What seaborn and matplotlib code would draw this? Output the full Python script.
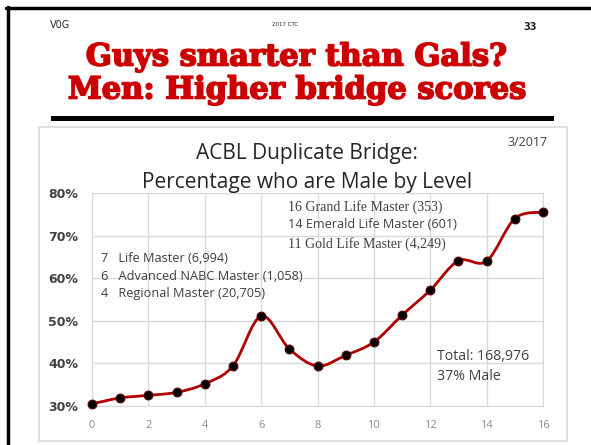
import numpy as np
import pandas as pd
import seaborn as sns
import matplotlib.pyplot as plt
import matplotlib.patheffects as pe
from matplotlib.path import Path
from matplotlib.patches import PathPatch, Rectangle
from matplotlib.lines import Line2D

# ACBL masterpoint level vs percent male
levels = [0, 1, 2, 3, 4, 5, 6, 7, 8, 9, 10, 11, 12, 13, 14, 15, 16]
pct_male = [30.5, 31.9, 32.5, 33.2, 35.2, 39.4, 51.1, 43.4, 39.4, 41.9,
            45.0, 51.3, 57.2, 64.1, 64.0, 74.0, 75.5]
y_ticks = [30, 40, 50, 60, 70, 80]
y_labels = ["30%", "40%", "50%", "60%", "70%", "80%"]
x_ticks = [0, 2, 4, 6, 8, 10, 12, 14, 16]

left_notes = ["7   Life Master (6,994)",
              "6   Advanced NABC Master (1,058)",
              "4   Regional Master (20,705)"]
top_notes = ["16 Grand Life Master (353)",
             "14 Emerald Life Master (601)",
             "11 Gold Life Master (4,249)"]

df = pd.DataFrame({"level": levels, "pct": pct_male})

sns.set_style("white")
W, H = 591, 445
fig = plt.figure(figsize=(W / 100, H / 100), dpi=100)
fig.patch.set_facecolor("white")


def fx(px):
    return px / W


def fy(py):
    return 1 - py / H


# slide frame + separator bar
fig.add_artist(Line2D([fx(6), 1], [fy(8), fy(8)], color="black", lw=2.5))
fig.add_artist(Line2D([fx(8), fx(8)], [fy(7), 0], color="black", lw=2.5))
fig.add_artist(Rectangle((fx(51), fy(121)), fx(554) - fx(51), 5 / H,
                         color="black", lw=0))
# chart box
fig.add_artist(Rectangle((fx(39), fy(441)), fx(567) - fx(39), (441 - 127) / H,
                         facecolor="none", edgecolor="#d9d9d9", lw=1.2))

# header
fig.text(fx(50), fy(25), "V0G", fontsize=7, va="center", ha="left")
fig.text(fx(285), fy(24), "2017 CTC", fontsize=4, va="center", ha="center")
fig.text(fx(537), fy(27), "33", fontsize=7, fontweight="bold", va="center", ha="right")
heavy = [pe.withStroke(linewidth=1.2, foreground="#cc0000")]
fig.text(fx(296), fy(57), "Guys smarter than Gals?", family="DejaVu Serif",
         fontweight="bold", fontsize=22, color="#cc0000", ha="center", va="center",
         path_effects=heavy)
fig.text(fx(297), fy(90), "Men: Higher bridge scores", family="DejaVu Serif",
         fontweight="bold", fontsize=22, color="#cc0000", ha="center", va="center",
         path_effects=heavy)

# chart titles
fig.text(fx(307), fy(153), "ACBL Duplicate Bridge:", family="Open Sans",
         fontsize=15, color="#262626", ha="center", va="center")
fig.text(fx(307), fy(182), "Percentage who are Male by Level", family="Open Sans",
         fontsize=15, color="#262626", ha="center", va="center")
fig.text(fx(548), fy(143), "3/2017", family="Open Sans", fontsize=9,
         color="#404040", ha="right", va="center")

ax = fig.add_axes([fx(92), fy(406), fx(543) - fx(92), (406 - 193) / H])
ax.set_xlim(0, 16)
ax.set_ylim(30, 80)

# smooth line (Catmull-Rom as cubic Bezier segments), like Excel's smoothed line
xs = np.array(levels, float)
ys = np.array(pct_male, float)
verts = [(xs[0], ys[0])]
codes = [Path.MOVETO]
for i in range(len(xs) - 1):
    p0 = np.array([xs[max(i - 1, 0)], ys[max(i - 1, 0)]])
    p1 = np.array([xs[i], ys[i]])
    p2 = np.array([xs[i + 1], ys[i + 1]])
    p3 = np.array([xs[min(i + 2, len(xs) - 1)], ys[min(i + 2, len(xs) - 1)]])
    c1 = p1 + (p2 - p0) / 6
    c2 = p2 - (p3 - p1) / 6
    verts += [tuple(c1), tuple(c2), tuple(p2)]
    codes += [Path.CURVE4] * 3
ax.add_patch(PathPatch(Path(verts, codes), facecolor="none", edgecolor="#b00000",
                       lw=2, clip_on=False, zorder=3))
sns.scatterplot(data=df, x="level", y="pct", color="black", s=40,
                edgecolor="#5a0000", linewidth=0.8, zorder=4, clip_on=False, ax=ax)

ax.set_xticks(x_ticks)
ax.set_xticklabels([str(t) for t in x_ticks], fontsize=8, color="#8c8c8c",
                   family="Open Sans")
ax.set_yticks(y_ticks)
ax.set_yticklabels(y_labels, fontsize=9, fontweight="bold", color="#404040")
ax.tick_params(axis="x", length=0, pad=10)
ax.tick_params(axis="y", length=0, pad=10)
ax.grid(True, color="#d9d9d9", lw=1)
ax.set_axisbelow(True)
for s in ax.spines.values():
    s.set_color("#d9d9d9")
ax.set_xlabel("")
ax.set_ylabel("")

# annotations
for i, t in enumerate(left_notes):
    fig.text(fx(101), fy(259 + 17.5 * i), t, family="Open Sans", fontsize=9.2,
             color="#404040", va="center", ha="left")
fig.text(fx(288), fy(207), top_notes[0], family="Liberation Serif", fontsize=10,
         color="#404040", va="center", ha="left")
fig.text(fx(288), fy(224), top_notes[1], family="Open Sans", fontsize=9.1,
         color="#404040", va="center", ha="left")
fig.text(fx(288), fy(244), top_notes[2], family="Liberation Serif", fontsize=10,
         color="#404040", va="center", ha="left")
fig.text(fx(437), fy(357), "Total: 168,976", family="Open Sans", fontsize=10.2,
         color="#404040", va="center", ha="left")
fig.text(fx(437), fy(377), "37% Male", family="Open Sans", fontsize=10.2,
         color="#404040", va="center", ha="left")

fig.savefig("out.png", dpi=100)
